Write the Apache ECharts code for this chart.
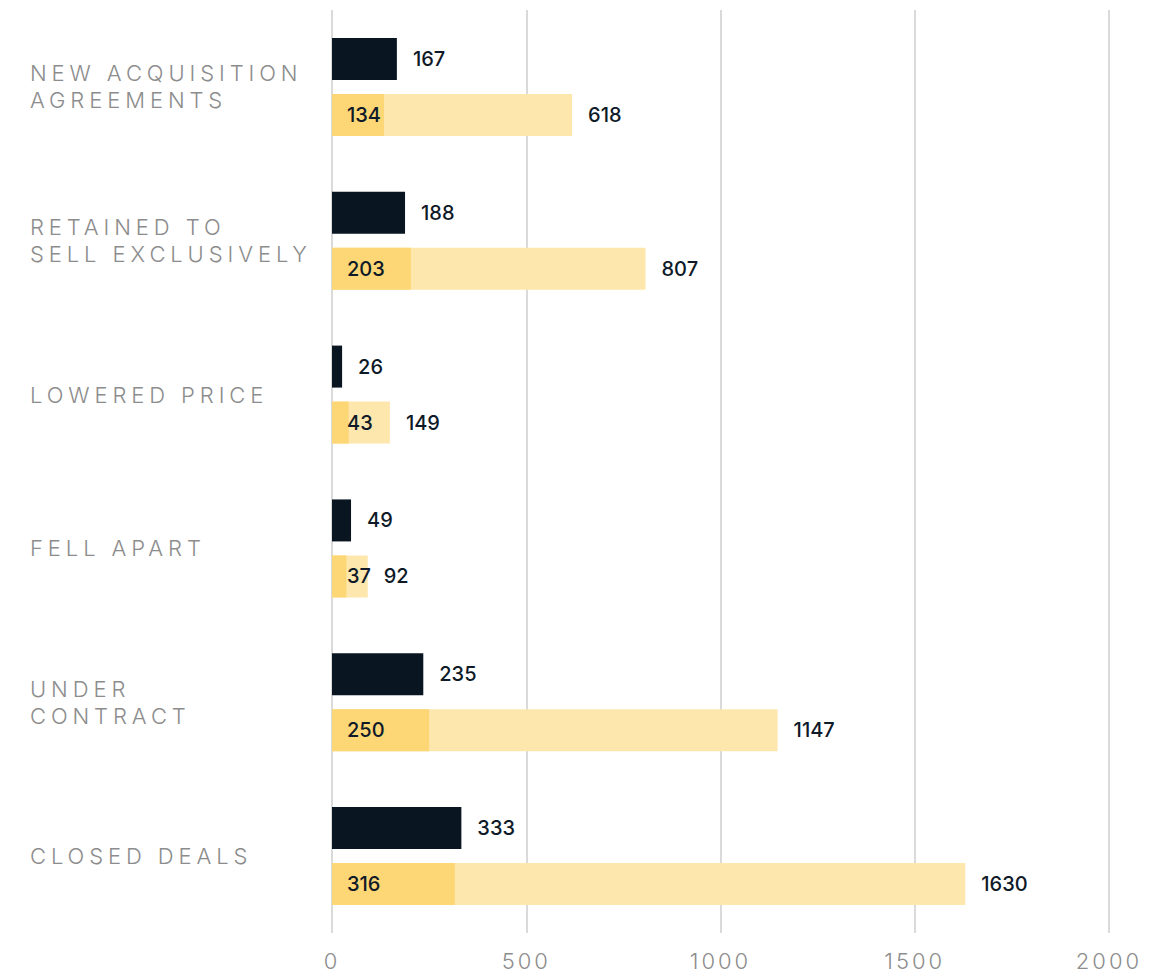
<!DOCTYPE html>
<html>
<head>
<meta charset="utf-8">
<title>Listing activity</title>
<script src="https://cdn.jsdelivr.net/npm/echarts@6/dist/echarts.min.js"></script>
<style>
  html, body { margin: 0; padding: 0; background: #ffffff; }
  #chart { width: 1164px; height: 973px; }
  /* tracked-out grey category text */
  #chart text[fill="#8c8c8c"] { letter-spacing: 4.9px; }
  /* tracked-out grey tick text */
  #chart text[fill="#8d8d8d"] { letter-spacing: 3px; }
</style>
</head>
<body>
<div id="chart"></div>
<script>
const categories = [
  'NEW ACQUISITION\nAGREEMENTS',
  'RETAINED TO\nSELL EXCLUSIVELY',
  'LOWERED PRICE',
  'FELL APART',
  'UNDER\nCONTRACT',
  'CLOSED DEALS'
];
const darkValues  = [167, 188, 26, 49, 235, 333];
const totalValues = [618, 807, 149, 92, 1147, 1630];
const innerValues = [134, 203, 43, 37, 250, 316];
const xTicks = { min: 0, max: 2000, interval: 500 };

const FONT = 'Inter, "DejaVu Sans", sans-serif';
const GREY = '#8c8c8c';
const TICK_GREY = '#8d8d8d';
const INK = '#0f1a28';
const BAR_W = 42;
const GAP = '33.3%';

const valueLabel = {
  show: true,
  position: 'right',
  distance: 16,
  color: INK,
  fontFamily: FONT,
  fontSize: 20,
  fontWeight: 500
};

const chart = echarts.init(document.getElementById('chart'), null, { renderer: 'svg' });
chart.setOption({
  backgroundColor: '#ffffff',
  animation: false,
  grid: { left: 332, right: 55, top: 10, bottom: 40, containLabel: false },
  xAxis: {
    type: 'value',
    min: xTicks.min, max: xTicks.max, interval: xTicks.interval,
    axisLine: { show: false },
    axisTick: { show: false },
    splitLine: { show: true, lineStyle: { color: '#dadada', width: 2 } },
    axisLabel: {
      color: TICK_GREY, fontFamily: FONT, fontSize: 22, fontWeight: 300, margin: 17,
      formatter: (v) => String(v)
    }
  },
  yAxis: [
    {
      type: 'category',
      data: categories,
      inverse: true,
      axisLine: { show: false },
      axisTick: { show: false },
      splitLine: { show: false },
      axisLabel: {
        color: GREY, fontFamily: FONT, fontSize: 22, fontWeight: 300,
        lineHeight: 27, align: 'left', margin: 302
      }
    },
    {
      type: 'category',
      data: categories,
      inverse: true,
      show: false
    }
  ],
  series: [
    {
      name: 'dark',
      type: 'bar',
      yAxisIndex: 0,
      data: darkValues,
      barWidth: BAR_W,
      barGap: GAP,
      itemStyle: { color: '#0a1522' },
      label: valueLabel
    },
    {
      name: 'total',
      type: 'bar',
      yAxisIndex: 0,
      data: totalValues,
      barWidth: BAR_W,
      barGap: GAP,
      itemStyle: { color: '#fde7ad' },
      label: valueLabel
    },
    {
      name: 'slot',
      type: 'bar',
      yAxisIndex: 1,
      data: darkValues,
      barWidth: BAR_W,
      barGap: GAP,
      silent: true,
      itemStyle: { color: 'rgba(0,0,0,0)' },
      label: { show: false }
    },
    {
      name: 'inner',
      type: 'bar',
      yAxisIndex: 1,
      data: innerValues,
      barWidth: BAR_W,
      barGap: GAP,
      itemStyle: { color: '#fdd675' },
      label: Object.assign({}, valueLabel, { position: 'insideLeft', distance: 15 })
    }
  ]
});
</script>
</body>
</html>
